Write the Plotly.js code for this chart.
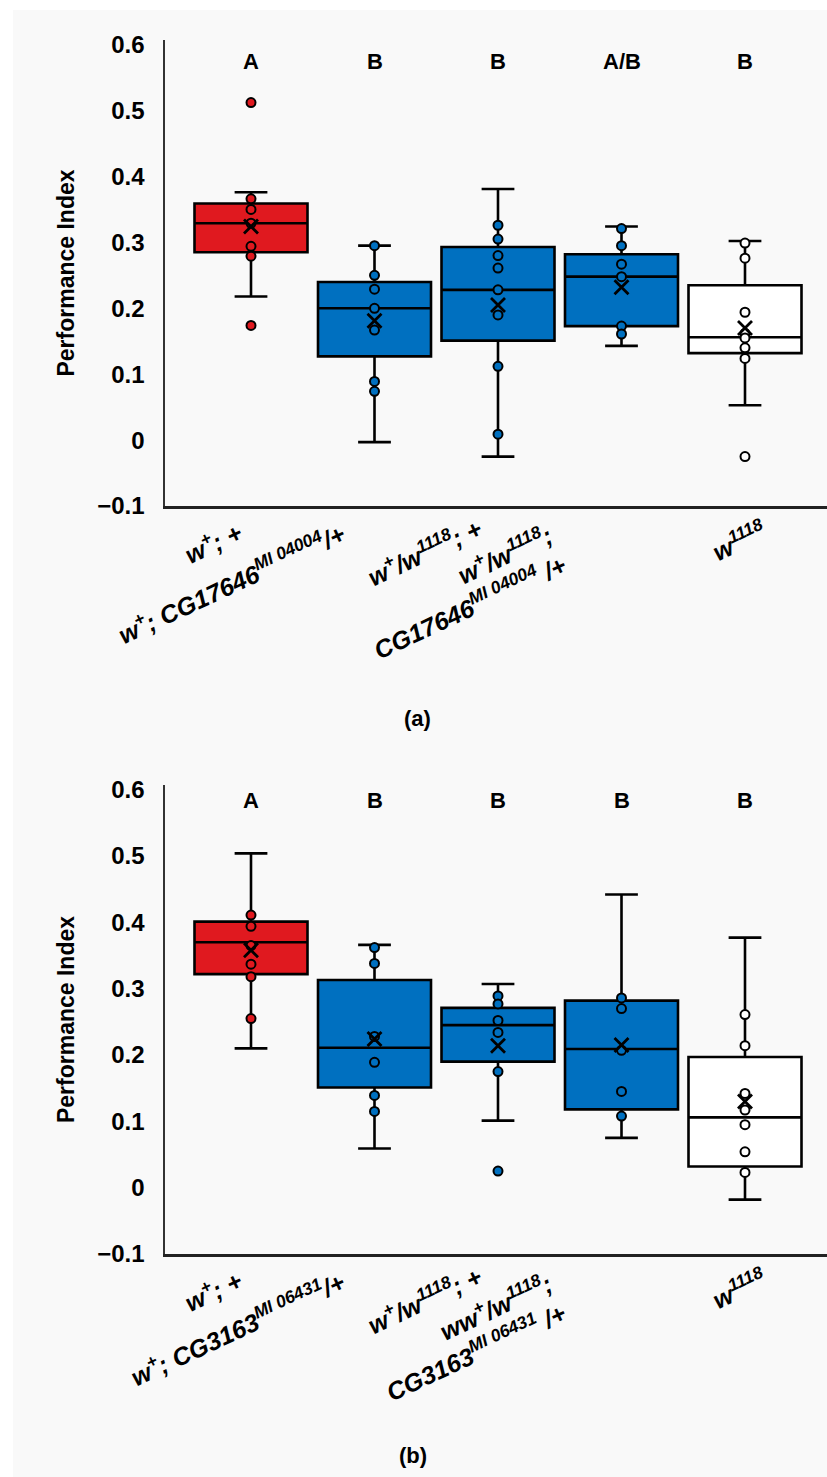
<!DOCTYPE html>
<html>
<head>
<meta charset="utf-8">
<script src="https://cdn.plot.ly/plotly-3.0.1.min.js"></script>
<style>
html,body{margin:0;padding:0;background:#ffffff;}
#chart{position:absolute;left:13px;top:10px;width:814px;height:1467px;}
</style>
</head>
<body>
<div id="chart"></div>
<script>
// ---------- data ----------
const categoryIndex = [0, 1, 2, 3, 4];

const tickLabelsA = [
  "w<sup>+</sup>; +",
  "w<sup>+</sup>; CG17646<sup>MI 04004</sup>/+",
  "w<sup>+</sup>/w<sup>1118</sup>; +",
  "w<sup>+</sup>/w<sup>1118</sup>;<br>CG17646<sup>MI 04004</sup> /+",
  "w<sup>1118</sup>"
];
const tickLabelsB = [
  "w<sup>+</sup>; +",
  "w<sup>+</sup>; CG3163<sup>MI 06431</sup>/+",
  "w<sup>+</sup>/w<sup>1118</sup>; +",
  "ww<sup>+</sup>/w<sup>1118</sup>;<br>CG3163<sup>MI 06431</sup> /+",
  "w<sup>1118</sup>"
];
const lettersA = ["A", "B", "B", "A/B", "B"];
const lettersB = ["A", "B", "B", "B", "B"];

// panel (a) box statistics
const q1A     = [0.285, 0.127, 0.151, 0.173, 0.132];
const medianA = [0.329, 0.200, 0.228, 0.248, 0.156];
const q3A     = [0.359, 0.240, 0.293, 0.282, 0.235];
const lowA    = [0.218, -0.003, -0.025, 0.143, 0.053];
const highA   = [0.376, 0.295, 0.381, 0.324, 0.302];
const meanA   = [0.324, 0.181, 0.205, 0.232, 0.170];
const pointsA = [
  [0.512, 0.366, 0.350, 0.329, 0.294, 0.279, 0.174],
  [0.295, 0.250, 0.229, 0.200, 0.167, 0.089, 0.074],
  [0.326, 0.305, 0.280, 0.261, 0.228, 0.190, 0.112, 0.009],
  [0.321, 0.295, 0.267, 0.248, 0.173, 0.161],
  [0.299, 0.276, 0.194, 0.162, 0.155, 0.140, 0.124, -0.025]
];

// panel (b) box statistics
const q1B     = [0.322, 0.151, 0.190, 0.118, 0.032];
const medianB = [0.370, 0.211, 0.245, 0.209, 0.106];
const q3B     = [0.401, 0.313, 0.271, 0.282, 0.197];
const lowB    = [0.210, 0.059, 0.101, 0.075, -0.018];
const highB   = [0.504, 0.366, 0.307, 0.442, 0.377];
const meanB   = [0.358, 0.224, 0.214, 0.215, 0.130];
const pointsB = [
  [0.411, 0.394, 0.365, 0.337, 0.318, 0.255],
  [0.362, 0.338, 0.228, 0.189, 0.139, 0.115],
  [0.289, 0.277, 0.252, 0.234, 0.175, 0.025],
  [0.286, 0.270, 0.207, 0.145, 0.108],
  [0.261, 0.214, 0.142, 0.117, 0.095, 0.054, 0.023]
];

const groupColors = ["#E0191F", "#0070C0", "#0070C0", "#0070C0", "#FFFFFF"];

// ---------- build ----------
const FONT = "Liberation Sans, Arial, sans-serif";
const traces = [];

function addPanel(q1, med, q3, lo, hi, mean, pts, xa, ya) {
  categoryIndex.forEach(function (i) {
    traces.push({
      type: "box", x: [i], q1: [q1[i]], median: [med[i]], q3: [q3[i]],
      lowerfence: [lo[i]], upperfence: [hi[i]],
      fillcolor: groupColors[i], line: {color: "#000", width: 2.6},
      width: 0.915, whiskerwidth: 0.29, boxpoints: false,
      hoverinfo: "skip", showlegend: false, xaxis: xa, yaxis: ya
    });
  });
  categoryIndex.forEach(function (i) {
    traces.push({
      type: "scatter", mode: "markers",
      x: pts[i].map(function () { return i; }), y: pts[i],
      marker: {symbol: "circle", size: 9, color: groupColors[i], line: {color: "#000", width: 2}},
      hoverinfo: "skip", showlegend: false, xaxis: xa, yaxis: ya
    });
  });
  traces.push({
    type: "scatter", mode: "markers", x: categoryIndex, y: mean,
    marker: {symbol: "x-thin-open", size: 14, color: "#000", line: {color: "#000", width: 2.8}},
    hoverinfo: "skip", showlegend: false, xaxis: xa, yaxis: ya
  });
}
addPanel(q1A, medianA, q3A, lowA, highA, meanA, pointsA, "x", "y");
addPanel(q1B, medianB, q3B, lowB, highB, meanB, pointsB, "x2", "y2");

const xRange = [-0.6964, 4.664];
const yRange = [-0.1, 0.607];

function xAxis(anchor) {
  return {
    anchor: anchor, domain: [0, 1], range: xRange,
    tickmode: "array", tickvals: categoryIndex, showticklabels: false, ticks: "",
    showline: true, linecolor: "#222", linewidth: 2.5,
    showgrid: false, zeroline: false, fixedrange: true
  };
}
function yAxis(domain, anchor) {
  return {
    anchor: anchor, domain: domain, range: yRange, dtick: 0.1, tick0: 0,
    ticks: "", ticklabelstandoff: 14,
    tickfont: {family: FONT, size: 24, weight: "bold", color: "#000"},
    showline: true, linecolor: "#333", linewidth: 1.6,
    showgrid: false, zeroline: false, fixedrange: true,
    title: {text: "Performance Index", font: {family: FONT, size: 23, weight: "bold", color: "#000"}, standoff: 16}
  };
}

// rotated category labels, placed under each category of the axis
const labelShiftX = [-1, -22, -8, -48, 29];
const labelShiftY = [-6, -8, -2, -9, -5];
const annotations = [];
function addLabels(labels, letters, xa, ya, letterY) {
  categoryIndex.forEach(function (i) {
    annotations.push({xref: xa, yref: ya + " domain", x: i, y: 0, text: labels[i],
      textangle: -25, xanchor: "right", yanchor: "top", align: "right",
      xshift: labelShiftX[i], yshift: labelShiftY[i], showarrow: false,
      font: {family: FONT, size: 25, weight: "bold", style: "italic", color: "#000"}});
    annotations.push({xref: xa, yref: ya, x: i, y: letterY, text: letters[i], showarrow: false,
      font: {family: FONT, size: 22, weight: "bold", color: "#000"}});
  });
}
addLabels(tickLabelsA, lettersA, "x", "y", 0.574);
addLabels(tickLabelsB, lettersB, "x2", "y2", 0.584);

annotations.push({xref: "paper", yref: "paper", x: 0.382, y: 0.4415, text: "(a)", showarrow: false,
  font: {family: FONT, size: 22, weight: "bold", color: "#000"}});
annotations.push({xref: "paper", yref: "paper", x: 0.3746, y: -0.178, text: "(b)", showarrow: false,
  font: {family: FONT, size: 22, weight: "bold", color: "#000"}});

const layout = {
  width: 814, height: 1467,
  paper_bgcolor: "#f9f9f9", plot_bgcolor: "rgba(0,0,0,0)",
  margin: {l: 152, r: 0, t: 30, b: 223},
  showlegend: false, boxmode: "overlay",
  font: {family: FONT, color: "#000"},
  xaxis: xAxis("y"),
  yaxis: yAxis([0.6161, 1], "x"),
  xaxis2: xAxis("y2"),
  yaxis2: yAxis([0, 0.3863], "x2"),
  annotations: annotations
};

Plotly.newPlot("chart", traces, layout, {staticPlot: true, displayModeBar: false});
</script>
</body>
</html>
